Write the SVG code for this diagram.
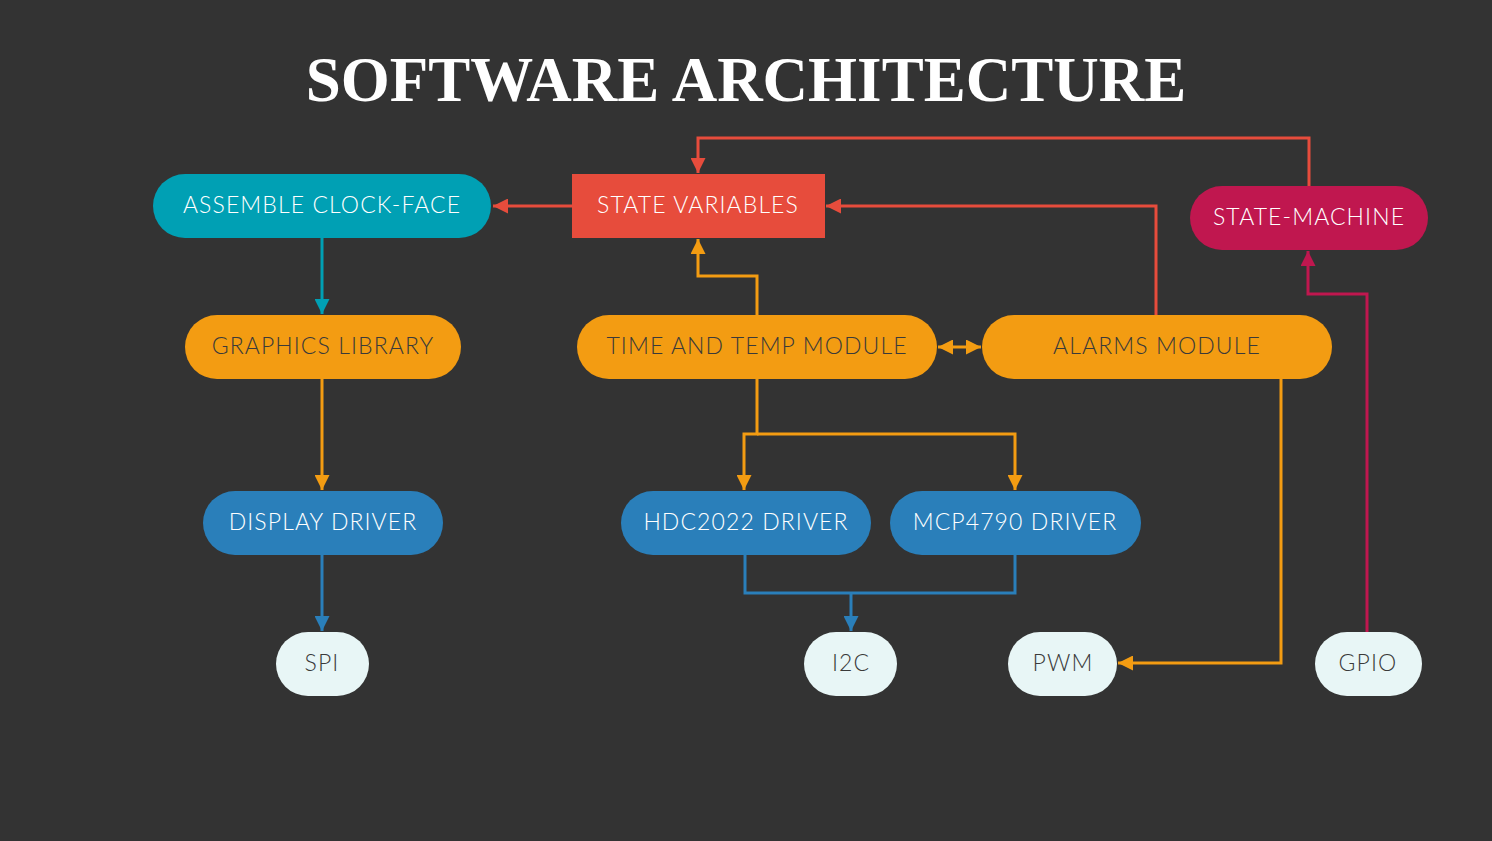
<svg xmlns="http://www.w3.org/2000/svg" width="1492" height="841" viewBox="0 0 1492 841">
<style>
.t{font-family:Lato,"Open Sans","Liberation Sans",sans-serif;font-size:23px;font-weight:300;letter-spacing:1.1px;text-anchor:middle;dominant-baseline:central}
.w{fill:#ffffff}.d{fill:#3a3a3a}
.c{fill:none;stroke-width:3}
</style>
<defs>
<marker id="mr" viewBox="0 0 10 10" refX="10" refY="5" markerWidth="5" markerHeight="5" orient="auto-start-reverse" markerUnits="strokeWidth"><path d="M0,0L10,5L0,10z" fill="#e74c3c"/></marker>
<marker id="mo" viewBox="0 0 10 10" refX="10" refY="5" markerWidth="5" markerHeight="5" orient="auto-start-reverse" markerUnits="strokeWidth"><path d="M0,0L10,5L0,10z" fill="#f39c12"/></marker>
<marker id="mc" viewBox="0 0 10 10" refX="10" refY="5" markerWidth="5" markerHeight="5" orient="auto-start-reverse" markerUnits="strokeWidth"><path d="M0,0L10,5L0,10z" fill="#00a0b4"/></marker>
<marker id="mb" viewBox="0 0 10 10" refX="10" refY="5" markerWidth="5" markerHeight="5" orient="auto-start-reverse" markerUnits="strokeWidth"><path d="M0,0L10,5L0,10z" fill="#2a7fba"/></marker>
<marker id="mm" viewBox="0 0 10 10" refX="10" refY="5" markerWidth="5" markerHeight="5" orient="auto-start-reverse" markerUnits="strokeWidth"><path d="M0,0L10,5L0,10z" fill="#c0174f"/></marker>
</defs>
<rect width="1492" height="841" fill="#333333"/>
<text x="746" y="101" font-family="'Liberation Serif','DejaVu Serif',serif" font-weight="bold" font-size="63" fill="#ffffff" text-anchor="middle">SOFTWARE ARCHITECTURE</text>
<g id="connectors">
<path class="c" stroke="#e74c3c" d="M572,206H493" marker-end="url(#mr)"/>
<path class="c" stroke="#e74c3c" d="M1309,186V138H698V173" marker-end="url(#mr)"/>
<path class="c" stroke="#e74c3c" d="M1156,315V206H826" marker-end="url(#mr)"/>
<path class="c" stroke="#00a0b4" d="M322,238V314" marker-end="url(#mc)"/>
<path class="c" stroke="#f39c12" d="M757,315V276H698V239" marker-end="url(#mo)"/>
<path class="c" stroke="#f39c12" d="M322,379V490" marker-end="url(#mo)"/>
<path class="c" stroke="#f39c12" d="M938,347H981" marker-start="url(#mo)" marker-end="url(#mo)"/>
<path class="c" stroke="#f39c12" d="M757,379V434H744V490" marker-end="url(#mo)"/>
<path class="c" stroke="#f39c12" d="M757,434H1015V490" marker-end="url(#mo)"/>
<path class="c" stroke="#f39c12" d="M1281,379V663H1118" marker-end="url(#mo)"/>
<path class="c" stroke="#2a7fba" d="M322,555V631" marker-end="url(#mb)"/>
<path class="c" stroke="#2a7fba" d="M745,555V593H1015V555"/>
<path class="c" stroke="#2a7fba" d="M851,593V631" marker-end="url(#mb)"/>
<path class="c" stroke="#c0174f" d="M1367,632V294H1308V251" marker-end="url(#mm)"/>
</g>
<g id="assemble"><rect x="153" y="174" width="338" height="64" rx="32" fill="#00a0b4"/><text class="t w" x="322" y="204">ASSEMBLE CLOCK-FACE</text></g>
<g id="statevars"><rect x="572" y="174" width="253" height="64" fill="#e74c3c"/><text class="t w" x="698" y="204">STATE VARIABLES</text></g>
<g id="statemachine"><rect x="1190" y="186" width="238" height="64" rx="32" fill="#c0174f"/><text class="t w" x="1309" y="216">STATE-MACHINE</text></g>
<g id="graphics"><rect x="185" y="315" width="276" height="64" rx="32" fill="#f39c12"/><text class="t d" x="323" y="345">GRAPHICS LIBRARY</text></g>
<g id="timetemp"><rect x="577" y="315" width="360" height="64" rx="32" fill="#f39c12"/><text class="t d" x="757" y="345">TIME AND TEMP MODULE</text></g>
<g id="alarms"><rect x="982" y="315" width="350" height="64" rx="32" fill="#f39c12"/><text class="t d" x="1157" y="345">ALARMS MODULE</text></g>
<g id="display"><rect x="203" y="491" width="240" height="64" rx="32" fill="#2a7fba"/><text class="t w" x="323" y="521">DISPLAY DRIVER</text></g>
<g id="hdc"><rect x="621" y="491" width="250" height="64" rx="32" fill="#2a7fba"/><text class="t w" x="746" y="521">HDC2022 DRIVER</text></g>
<g id="mcp"><rect x="890" y="491" width="251" height="64" rx="32" fill="#2a7fba"/><text class="t w" x="1015" y="521">MCP4790 DRIVER</text></g>
<g id="spi"><rect x="276" y="632" width="93" height="64" rx="32" fill="#e8f6f6"/><text class="t d" x="322" y="662">SPI</text></g>
<g id="i2c"><rect x="804" y="632" width="93" height="64" rx="32" fill="#e8f6f6"/><text class="t d" x="851" y="662">I2C</text></g>
<g id="pwm"><rect x="1008" y="632" width="109" height="64" rx="32" fill="#e8f6f6"/><text class="t d" x="1063" y="662">PWM</text></g>
<g id="gpio"><rect x="1315" y="632" width="107" height="64" rx="32" fill="#e8f6f6"/><text class="t d" x="1368" y="662">GPIO</text></g>
</svg>
